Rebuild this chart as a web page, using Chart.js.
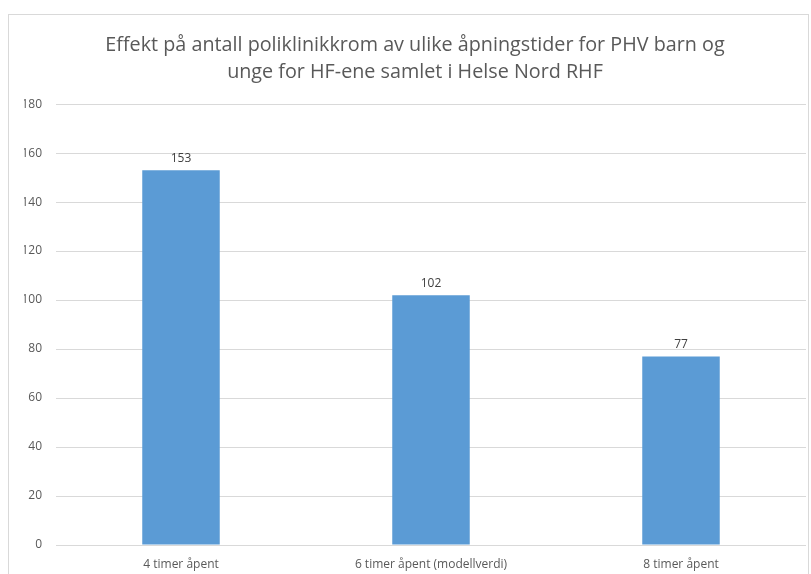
<!DOCTYPE html>
<html><head><meta charset="utf-8">
<script src="https://cdn.jsdelivr.net/npm/chart.js@4"></script>
<style>
html,body{margin:0;padding:0;background:#fff;}
#wrap{position:relative;width:811px;height:574px;overflow:hidden;}
#frame{position:absolute;left:8px;top:14px;width:801px;height:600px;border:1px solid #d9d9d9;box-sizing:border-box;}
canvas{position:absolute;left:0;top:0;}
</style></head><body>
<div id="wrap"><div id="frame"></div><canvas id="c" width="811" height="574"></canvas></div>
<script>
const titleLines = ["Effekt på antall poliklinikkrom av ulike åpningstider for PHV barn og", "unge for HF-ene samlet i Helse Nord RHF"];
const categories = ["4 timer åpent", "6 timer åpent (modellverdi)", "8 timer åpent"];
const values = [153, 102, 77];
const yTicks = [0, 20, 40, 60, 80, 100, 120, 140, 160, 180];

const dataLabels = {
  id: 'dataLabels',
  afterDatasetsDraw(chart) {
    const ctx = chart.ctx;
    ctx.save();
    ctx.font = '12px "Open Sans", sans-serif';
    ctx.fillStyle = '#404040';
    ctx.textAlign = 'center';
    ctx.textBaseline = 'bottom';
    chart.getDatasetMeta(0).data.forEach((bar, i) => {
      ctx.fillText(String(values[i]), bar.x, bar.y - 6);
    });
    ctx.restore();
  }
};

new Chart(document.getElementById('c'), {
  type: 'bar',
  data: {
    labels: categories,
    datasets: [{
      data: values,
      backgroundColor: '#5b9bd5',
      borderWidth: 0,
      barPercentage: 0.31,
      categoryPercentage: 1
    }]
  },
  options: {
    responsive: false,
    animation: false,
    layout: { padding: { top: 32, right: 5, bottom: 0, left: 24 } },
    plugins: {
      legend: { display: false },
      tooltip: { enabled: false },
      title: {
        display: true,
        text: titleLines,
        color: '#595959',
        font: { family: '"Open Sans", sans-serif', size: 19.75, weight: 'normal', lineHeight: 1.37 },
        padding: { top: 0, bottom: 18 }
      }
    },
    scales: {
      x: {
        grid: { display: false },
        border: { display: false },
        ticks: { color: '#595959', font: { family: '"Open Sans", sans-serif', size: 12 }, padding: 4, maxRotation: 0 },
        afterFit(s) { s.height = 29; }
      },
      y: {
        min: 0, max: 180,
        afterBuildTicks(s) { s.ticks = yTicks.map(v => ({ value: v })); },
        grid: { color: '#d9d9d9', drawTicks: false },
        border: { display: false },
        ticks: { color: '#595959', font: { family: '"Open Sans", sans-serif', size: 12 }, padding: 14 },
        afterFit(s) { s.width = 32; }
      }
    }
  },
  plugins: [dataLabels]
});
</script>
</body></html>
